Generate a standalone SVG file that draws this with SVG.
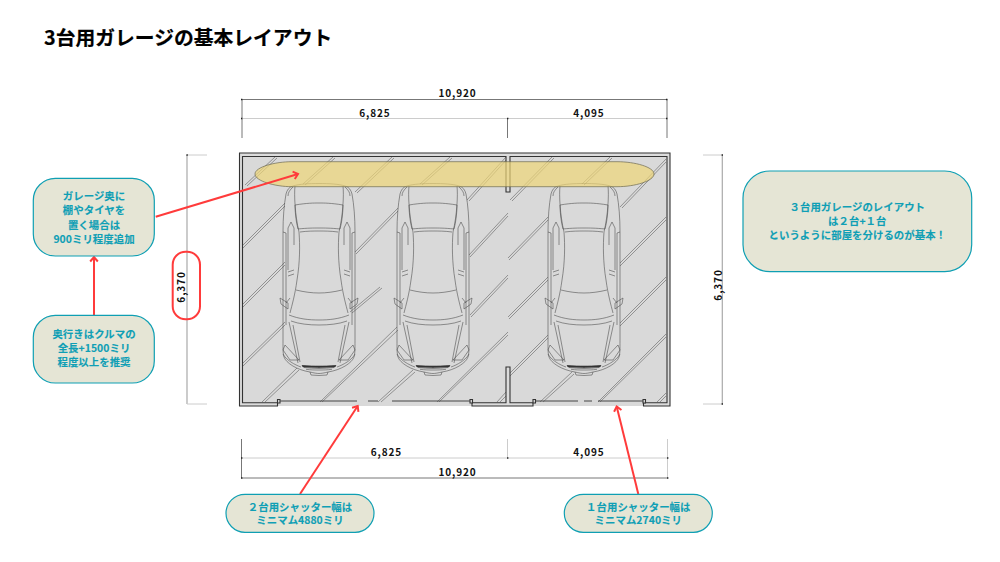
<svg xmlns="http://www.w3.org/2000/svg" xmlns:xlink="http://www.w3.org/1999/xlink" width="1000" height="562" viewBox="0 0 1000 562">
<style>
text{font-family:"Noto Sans CJK JP","Noto Sans",sans-serif;font-weight:700}
.t{font-size:19.8px;fill:#000;stroke:#000;stroke-width:.2}
.b{fill:#e5e5d5;stroke:#0f9fb3;stroke-width:1.2}
.l{font-size:10.4px;fill:#0f9fb5;text-anchor:middle;letter-spacing:.05px;stroke:#0f9fb5;stroke-width:.12}
.d{font-size:10px;fill:#111;text-anchor:middle;letter-spacing:.9px;font-family:"Noto Sans CJK JP",sans-serif}
.h{fill:none;stroke:#555;stroke-width:.55}
.c{fill:none;stroke:#444;stroke-width:.55}
.w{fill:#dcdcdc;stroke:#333;stroke-width:1.1}
.s{stroke:#444;stroke-width:1;fill:none}
.dk{stroke:#777;stroke-width:1;fill:none}
.lg{stroke:#ccc;stroke-width:1;fill:none}
.a{stroke:#ff3b3b;stroke-width:2;fill:none}
</style>
<defs>
<marker id="ah" markerUnits="userSpaceOnUse" markerWidth="14" markerHeight="14" refX="10" refY="7" orient="auto">
<path d="M5.5,3.2 L10,7 L5.5,10.8" fill="none" stroke="#ff3b3b" stroke-width="2"/>
</marker>
<g id="half">
<path d="M0,183.5 C-10,183.5 -20,184 -26,186 C-30,187 -32,190 -33,194 C-35,205 -36,218 -36,232 L-36,340 C-36,350 -36,354 -35,357 C-33,363 -22,370 -9,372 C-5,373 -2,373.5 0,373.5"/>
<path d="M-24,186 C-25,195 -24,215 -20,232 C-19,245 -19,262 -22,280 C-24,295 -27,305 -29,313"/>
<path d="M-26,187 C-29,190 -31,192 -31,196"/>
<path d="M-24,205 C-12,203 -5,203 0,203 M-24,205 C-24,212 -23,222 -21,229 C-12,228 -5,228 0,228 M-19,232 C-12,231 -5,231 0,231"/>
<path d="M-33,233 L-33,270 L-33,325 M-31,228 L-28,222 L-25,228 L-25,245 M-31,228 L-31,270 M-25,270 L-31,272 M-25,274 L-31,276"/>
<path d="M-36,232 L-33,233"/>
<path d="M-23,290 C-15,292 -7,293 0,293"/>
<path d="M-30,315 C-20,319 -10,320 0,320 M-28,321 C-20,324 -10,325 0,325"/>
<path d="M-39,298 L-38,304 L-31,309 L-31,303 Z M-33,303 L-29,298"/>
<path d="M-30,322 L-21,363 M-26,325 L-19,362"/>
<path d="M-36,350 L-34,345 L-20,360 L-29,360 Z"/>
<path d="M-36,354 C-33,360 -24,365 -18,367"/>
<path d="M-17,365.5 C-10,366.5 -5,366.5 0,366.5 M-15,367.5 C-10,368 -5,368.5 0,368.5 M-13,369.3 C-8,370 -4,370 0,370 M-9,372 L-8,375 L0,375.5"/>
<path d="M-17,365.5 C-10,366 -5,366 0,366 L0,367.5 L-16,367 Z" fill="#333" stroke="#333"/>
</g>
<g id="car">
<use xlink:href="#half"/>
<use xlink:href="#half" transform="scale(-1,1)"/>
</g>
</defs>
<rect width="1000" height="562" fill="#fff"/>
<text class="t" x="44" y="44.5">3台用ガレージの基本レイアウト</text>

<g id="garage">
<rect x="240" y="154" width="430" height="252" fill="#d9d9d9"/>
<g id="hatch">
<path class="h" d="M245,185L275,157M247,186L277,158M303,184L333,157M305,185L335,158M355,192L392,157M357,193L394,158M420,184L450,157M422,185L452,158M467,200L506,157M469,201L508,158M510,200L552,157M512,201L554,158M582,184L610,157M584,185L612,158M620,207L666,159M622,208L666,162"/>
<path class="h" d="M243,245L285,203M243,248L285,206M355,252L398,208M356,254L398,211M469,255L508,213M470,257L508,216M508,258L548,217M509,260L548,220M620,263L666,217M620,266L666,220"/>
<path class="h" d="M243,304L285,262M243,307L285,265M350,312L380,287M352,313L382,288M470,315L508,275M471,317L508,278M508,317L548,277M509,319L548,280M620,323L666,277M620,326L666,280"/>
<path class="h" d="M243,363L285,322M243,366L285,325M320,402L397,327M322,402L398,330M437,402L508,332M439,402L508,335M510,373L548,335M510,376L548,338M598,402L666,334M600,402L666,337"/>
<path class="h" d="M262,402L297,368M265,402L299,370M378,402L413,370M381,402L415,372M497,402L506,392M500,402L506,396M540,402L572,372M543,402L574,374M657,402L666,393M660,402L666,396"/>
</g>
<g class="c">
<use xlink:href="#car" x="319"/>
<use xlink:href="#car" x="433"/>
<use xlink:href="#car" x="584"/>
</g>
<g id="walls">
<path class="w" d="M277.5,402.7V406H239.5V153H670V406H643.5V402.7H667V156.5H510V192H506V156.5H242.5V402.7Z"/>
<path class="w" d="M472,402.7V406H533V402.7H510V367H506V402.7Z"/>
<path class="w" d="M277.5,399.5h2.5v3.5h-2.5zM470,399.5h2.5v3.5h-2.5zM533,399.5h2.5v3.5h-2.5zM643,399.5h2.5v3.5h-2.5z"/>
<path class="s" d="M280,401H357M368,401H378M392,401H470M535.5,401H578M584,401H592M598,401H643"/>
</g>
<path id="storage" d="M255,174C255,167 275,161.7 292,161.7H617C635,161.7 654,167 654,174C654,181 635,186.7 617,186.7H292C275,186.7 255,181 255,174Z" fill="#eed678" fill-opacity=".7" stroke="#6f6a50" stroke-width=".7"/>
</g>

<g id="dimensions">
<path class="dk" d="M242,99.5H667M242,99V138M667,99V138M507.5,118.5V138"/>
<path class="lg" d="M242,118.5H667"/>
<path class="lg" d="M241.5,439V478M507.5,439V458M667.5,439V478M241.5,458H667.5"/>
<path class="dk" d="M241.5,478H667.5M241.5,439V478"/>
<path stroke="#aaa" stroke-width="1.2" fill="none" d="M187,155V404M722.3,155V404"/>
<path class="lg" d="M187,155H207M187,404H207M703,155H722M703,404H722"/>
<path stroke="#222" stroke-width="1.4" fill="none" d="M241,99.5h1.4M666,99.5h1.4M241,118.5h1.4M507,118.5h1.4M666,118.5h1.4M241,458h1.4M507,458h1.4M667,458h1.4M241,478h1.4M667,478h1.4M186.4,155h1.4M721.6,155h1.4M721.6,404h1.4"/>
<text class="d" x="457.5" y="96.5">10,920</text>
<text class="d" x="375" y="116.5">6,825</text>
<text class="d" x="589" y="116.5">4,095</text>
<text class="d" x="386.5" y="455.5">6,825</text>
<text class="d" x="589" y="455.5">4,095</text>
<text class="d" x="457.5" y="475.5">10,920</text>
<text class="d" transform="translate(185,287) rotate(-90)">6,370</text>
<text class="d" transform="translate(721.5,285) rotate(-90)">6,370</text>
</g>

<rect id="highlight" x="172.7" y="251.7" width="27.3" height="67.6" rx="13" fill="none" stroke="#ff3b3b" stroke-width="2"/>

<g id="connectors">
<path class="a" marker-end="url(#ah)" d="M155.7,216.7L298,174"/>
<path class="a" marker-end="url(#ah)" d="M94,315V257"/>
<path class="a" marker-end="url(#ah)" d="M300,494L357.7,406"/>
<path class="a" marker-end="url(#ah)" d="M638.3,494L616.7,406.5"/>
</g>

<g id="note-storage">
<rect class="b" x="33.3" y="178.3" width="121" height="77.7" rx="22"/>
<text class="l" x="94" y="199.8">ガレージ奥に</text>
<text class="l" x="94" y="214.2">棚やタイヤを</text>
<text class="l" x="94" y="228.5">置く場合は</text>
<text class="l" x="94" y="242.6">900ミリ程度追加</text>
</g>
<g id="note-depth">
<rect class="b" x="33.3" y="315.3" width="121" height="67.7" rx="22"/>
<text class="l" x="94" y="337.9">奥行きはクルマの</text>
<text class="l" x="94" y="352.1">全長+1500ミリ</text>
<text class="l" x="94" y="366.2">程度以上を推奨</text>
</g>
<g id="note-shutter2">
<rect class="b" x="226" y="494.3" width="148" height="38" rx="19"/>
<text class="l" x="300" y="510.5">２台用シャッター幅は</text>
<text class="l" x="300" y="523.9">ミニマム4880ミリ</text>
</g>
<g id="note-shutter1">
<rect class="b" x="564.3" y="494.3" width="148" height="38" rx="19"/>
<text class="l" x="638.3" y="510.5">１台用シャッター幅は</text>
<text class="l" x="638.3" y="523.9">ミニマム2740ミリ</text>
</g>
<g id="note-layout">
<rect class="b" x="743" y="171" width="228.7" height="100.7" rx="27"/>
<text class="l" x="857.3" y="211.1">３台用ガレージのレイアウト</text>
<text class="l" x="857.3" y="225.1">は２台+１台</text>
<text class="l" x="857.3" y="239.1">というように部屋を分けるのが基本！</text>
</g>
</svg>
